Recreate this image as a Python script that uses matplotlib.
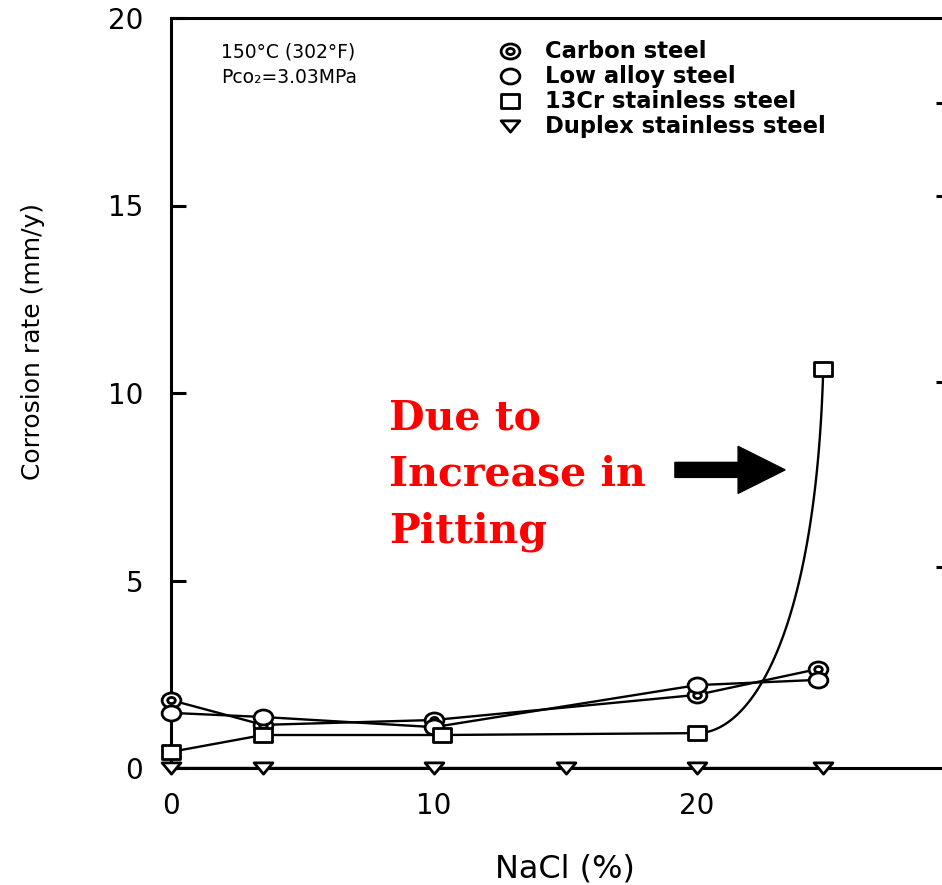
import numpy as np
import matplotlib
matplotlib.use("Agg")
import matplotlib.pyplot as plt
from matplotlib.path import Path
from matplotlib.transforms import Affine2D, IdentityTransform
from matplotlib.patches import FancyArrow
from matplotlib.lines import Line2D

# ---------------- data ----------------
carbon_x = [0, 3.5, 10, 20, 24.6]
carbon_y = [1.81, 1.15, 1.28, 1.95, 2.64]
lowalloy_x = [0, 3.5, 10, 20, 24.6]
lowalloy_y = [1.47, 1.36, 1.09, 2.21, 2.35]
cr13_x = [0, 3.5, 10.3, 20, 24.8]
cr13_y = [0.43, 0.88, 0.88, 0.93, 10.64]
duplex_x = [0, 3.5, 10, 15, 20, 24.8]
duplex_y = [0, 0, 0, 0, 0, 0]

series_labels = ["Carbon steel", "Low alloy steel", "13Cr stainless steel",
                 "Duplex stainless steel"]
x_ticks = [0, 10, 20]
y_ticks = [0, 5, 10, 15, 20]
right_ticks = [5.37, 10.3, 15.24, 17.73]
x_label = "NaCl (%)"
y_label = "Corrosion rate (mm/y)"
cond_lines = ["150°C (302°F)", "Pco₂=3.03MPa"]
note_lines = ["Due to", "Increase in", "Pitting"]

# ---------------- figure ----------------
W, H = 942, 885
fig = plt.figure(figsize=(W / 100, H / 100), dpi=100)
fig.patch.set_facecolor("white")


def fx(px):
    return px / W


def fy(py):
    return 1 - py / H


ax = fig.add_axes([fx(171), (H - 768) / H, (950 - 171) / W, (768 - 18) / H])
ax.set_xlim(0, (950 - 171) / 26.3)
ax.set_ylim(0, 20)
for s in ax.spines.values():
    s.set_linewidth(2.2)
    s.set_color("black")

# marker shapes
ellipse = Affine2D().scale(1.0, 0.8).transform_path(Path.unit_circle())
square = Path([(-1, -0.75), (1, -0.75), (1, 0.75), (-1, 0.75), (-1, -0.75)],
              [Path.MOVETO, Path.LINETO, Path.LINETO, Path.LINETO, Path.CLOSEPOLY])
tri = Path([(-1, 0.6), (1, 0.6), (0, -0.6), (-1, 0.6)],
           [Path.MOVETO, Path.LINETO, Path.LINETO, Path.CLOSEPOLY])

LW = 1.7
MEW = 2.0
mk = dict(color="none", mfc="white", mec="black", mew=MEW, clip_on=False, zorder=4)


def rise_curve(x0, y0, x1, y1, n=120):
    t = np.linspace(0, 1, n)
    cx1, cy1 = x0 + 0.42 * (x1 - x0), y0
    cx2, cy2 = x0 + 0.94 * (x1 - x0), y0 + 0.265 * (y1 - y0)
    bx = (1 - t) ** 3 * x0 + 3 * (1 - t) ** 2 * t * cx1 + 3 * (1 - t) * t ** 2 * cx2 + t ** 3 * x1
    by = (1 - t) ** 3 * y0 + 3 * (1 - t) ** 2 * t * cy1 + 3 * (1 - t) * t ** 2 * cy2 + t ** 3 * y1
    return bx, by


# lines
ax.plot(carbon_x, carbon_y, color="black", lw=LW, zorder=2, clip_on=False)
ax.plot(lowalloy_x, lowalloy_y, color="black", lw=LW, zorder=2, clip_on=False)
bx, by = rise_curve(cr13_x[-2], cr13_y[-2], cr13_x[-1], cr13_y[-1])
cx = np.concatenate([cr13_x[:-1], bx])
cy = np.concatenate([cr13_y[:-1], by])
ax.plot(cx, cy, color="black", lw=LW, zorder=2, clip_on=False)
ax.plot(duplex_x, duplex_y, color="black", lw=LW, zorder=2, clip_on=False)

# markers
ax.plot(carbon_x, carbon_y, marker=ellipse, ms=13.5, **mk)
ax.plot(carbon_x, carbon_y, marker=ellipse, ms=5.5, **mk)
ax.plot(lowalloy_x, lowalloy_y, marker=ellipse, ms=13.5, **mk)
ax.plot(cr13_x, cr13_y, marker=square, ms=12.5, **mk)
ax.plot(duplex_x, duplex_y, marker=tri, ms=13.5, **mk)

# ticks
ax.set_xticks(x_ticks)
ax.set_xticklabels([str(v) for v in x_ticks])
ax.set_yticks(y_ticks)
ax.set_yticklabels([str(v) for v in y_ticks])
ax.tick_params(axis="x", length=0, pad=17, labelsize=20)
ax.tick_params(axis="y", direction="in", length=11, width=2.2, pad=20, labelsize=20)

ax2 = ax.twinx()
ax2.set_ylim(0, 20)
ax2.set_yticks(right_ticks)
ax2.tick_params(axis="y", direction="in", length=10, width=2.2, labelright=False)
for s in ax2.spines.values():
    s.set_visible(False)

# axis labels
fig.text(fx(33), fy(341), y_label, rotation=90, ha="center", va="center",
         fontsize=18, family="DejaVu Sans")
fig.text(fx(565), fy(869), x_label, ha="center", va="center",
         fontsize=23, family="DejaVu Sans")

# condition text
for i, t in enumerate(cond_lines):
    fig.text(fx(221), fy(58 + 25 * i), t, ha="left", va="baseline",
             fontsize=13.5, family="DejaVu Sans")

# legend (manual)
leg_markers = [(ellipse, 13.5), (ellipse, 13.5), (square, 12.5), (tri, 13.5)]
for i, (lab, (m, ms)) in enumerate(zip(series_labels, leg_markers)):
    base = 58 + 25 * i
    yc = base - 7
    fig.add_artist(Line2D([fx(510)], [fy(yc)], marker=m, ms=ms, linestyle="none",
                          mfc="white", mec="black", mew=MEW, transform=fig.transFigure))
    if i == 0:
        fig.add_artist(Line2D([fx(510)], [fy(yc)], marker=ellipse, ms=5.5, linestyle="none",
                              mfc="white", mec="black", mew=MEW, transform=fig.transFigure))
    fig.text(fx(545), fy(base), lab, ha="left", va="baseline",
             fontsize=16.3, family="DejaVu Sans", fontweight="bold")

# red annotation
for i, t in enumerate(note_lines):
    fig.text(fx(389), fy(430 + 56 * i), t, ha="left", va="baseline",
             fontsize=29.5, family="DejaVu Serif", fontweight="bold", color="#ff0000")

# arrow
fig.canvas.draw()
tail = ax.transData.transform((19.16, 7.95))
tip = ax.transData.transform((23.35, 7.95))
arrow = FancyArrow(tail[0], tail[1], tip[0] - tail[0], 0, width=15, head_width=47,
                   head_length=47, length_includes_head=True, color="black",
                   transform=IdentityTransform())
fig.add_artist(arrow)

fig.savefig("out.png", dpi=100, facecolor="white")
